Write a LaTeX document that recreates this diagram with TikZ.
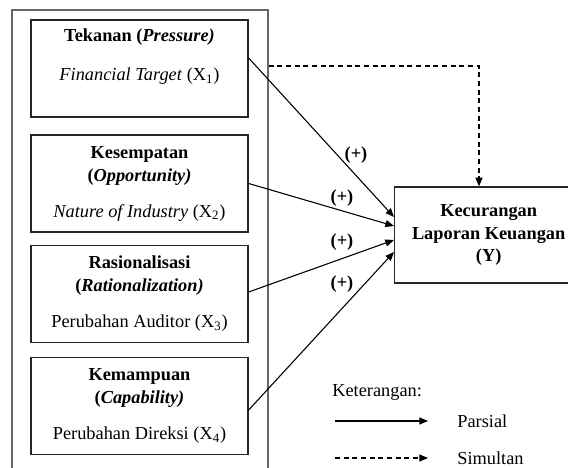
\documentclass[tikz,border=0pt]{standalone}
\usepackage{fontspec}
\setmainfont{Liberation Serif}
\usepackage{tikz}
\usetikzlibrary{calc,arrows.meta,positioning}
\tikzset{
  basefont/.style={font=\fontsize{11}{13.8}\selectfont},
  frame/.style   ={rectangle, draw=black!60, line width=0.9pt,
                   minimum width=153.6pt, minimum height=286.2pt},
  varbox/.style  ={rectangle, draw=black!85, line width=0.8pt, basefont,
                   align=center, minimum width=130.2pt, minimum height=58.2pt,
                   inner sep=2pt},
  depbox/.style  ={varbox, minimum width=112.8pt, minimum height=57.6pt,
                   font=\fontsize{11}{13.5}\selectfont\bfseries},
  partial/.style ={-{Triangle[length=5.2pt,width=4.2pt]}, line width=0.65pt},
  simultan/.style={partial, dash pattern=on 3pt off 2.2pt},
  sign/.style    ={basefont, font=\fontsize{11}{13.8}\selectfont\bfseries, inner sep=0pt},
  legtext/.style ={basefont, anchor=west, inner sep=0pt},
}

\begin{document}
\begin{tikzpicture}[x=0.6pt, y=0.6pt]
  \clip (0,0) rectangle (568,467);
  \useasboundingbox (0,0) rectangle (568,467);

  % ---- the frame round the four variables ---------------------------------
  \node[frame] (frame) at (140,218.5) {};

  % ---- independent variables ----------------------------------------------
  \node[varbox] (x1) at (139.5,398.5)
    {\textbf{Tekanan (\textit{Pressure)}}\\[9.6pt]
     \textit{Financial Target} (X\textsubscript{1})\\[2.8pt]\mbox{}};
  \node[varbox] (x2) at (139.5,283.5)
    {\textbf{Kesempatan}\\ \textbf{(\textit{Opportunity)}}\\[7.8pt]
     \textit{Nature of Industry} (X\textsubscript{2})};
  \node[varbox] (x3) at (139.5,173)
    {\textbf{Rasionalisasi}\\ \textbf{(\textit{Rationalization)}}\\[7.8pt]
     Perubahan Auditor (X\textsubscript{3})};
  \node[varbox] (x4) at (139.5,61)
    {\textbf{Kemampuan}\\ \textbf{(\textit{Capability)}}\\[7.8pt]
     Perubahan Direksi (X\textsubscript{4})};

  % ---- dependent variable -------------------------------------------------
  \node[depbox, anchor=west] (yv) at (394,232)
    {Kecurangan\\ Laporan Keuangan\\ (Y)};

  % ---- partial effects ----------------------------------------------------
  \draw[partial] ([yshift=6.3pt]x1.east)  -- ([yshift=10.8pt]yv.west);
  \draw[partial] (x2.east)                -- ([yshift=5.4pt]yv.west);
  \draw[partial] ([yshift=1.2pt]x3.east)  -- ([yshift=-3pt]yv.west);
  \draw[partial] ([yshift=-2.4pt]x4.east) -- ([yshift=-10.2pt]yv.west);

  \node[sign] (s1) at (356,312) {(+)};
  \node[sign] (s2) at (342,269) {(+)};
  \node[sign] (s3) at (342,225) {(+)};
  \node[sign] (s4) at (342,183) {(+)};

  % ---- simultaneous effect ------------------------------------------------
  \draw[simultan] ([yshift=1.5pt]frame.east |- x1.east) -| (479,232 |- yv.north);

  % ---- legend -------------------------------------------------------------
  \node[legtext] (leg) at (332,75) {Keterangan:};
  \node[legtext] (lpar) at (457,46) {Parsial};
  \node[legtext] (lsim) at (457,9) {Simultan};
  \coordinate (pa) at (335,46);
  \coordinate (pb) at (428,46);
  \coordinate (sa) at (335,9);
  \coordinate (sb) at (428,9);
  \draw[partial]  (pa) -- (pb);
  \draw[simultan] (sa) -- (sb);
\end{tikzpicture}
\end{document}
